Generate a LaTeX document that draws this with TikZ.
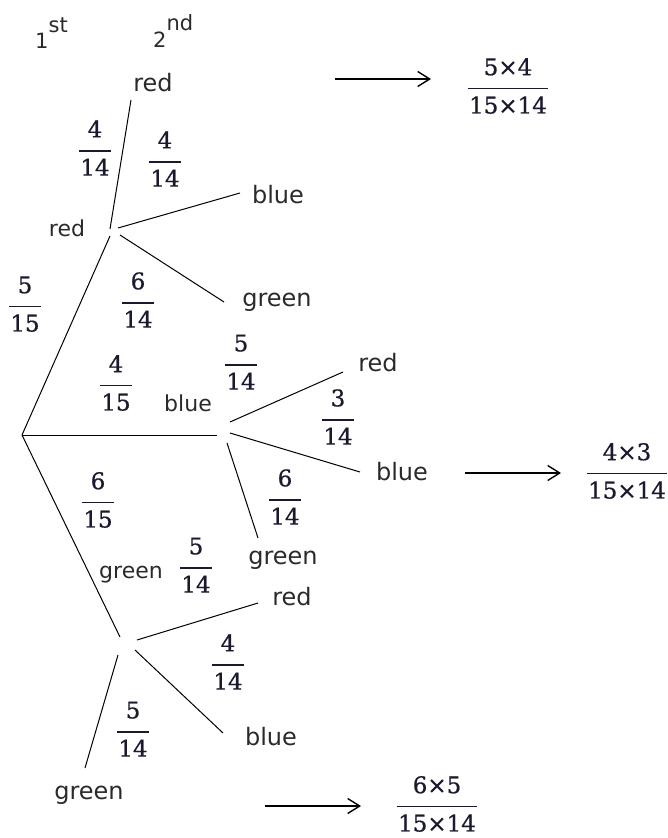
\documentclass[tikz,border=0pt]{standalone}
\usepackage{fontspec}
\setmainfont{DejaVu Sans}
\newfontfamily\fracfont[FakeBold=0.6]{DejaVu Serif}
\usetikzlibrary{arrows.meta}
\newcommand\fr[2]{{\fracfont\fontsize{23}{23}\selectfont\renewcommand\arraystretch{0}\setlength\arrayrulewidth{1.3pt}\begin{tabular}{@{\hspace{1.5pt}}c@{\hspace{1.5pt}}}\rule[-13pt]{0pt}{37pt}#1\\\hline\rule{0pt}{24pt}#2\end{tabular}}}
\definecolor{txt}{HTML}{2A2A2A}
\definecolor{num}{HTML}{1A1A2E}
\tikzset{
  lone/.style={font=\fontsize{22}{22}\selectfont, text=txt, inner sep=0pt},
  ltwo/.style={font=\fontsize{24}{24}\selectfont, text=txt, inner sep=0pt},
  ord/.style={font=\fontsize{21}{21}\selectfont, text=txt, inner sep=0pt, anchor=base west},
  frac/.style={inner sep=0pt, text=num, yshift=6.5pt},
  branch/.style={line width=1pt, black},
  arr/.style={line width=1.4pt, black, -{Straight Barb[length=12pt,width=15pt,line width=1.4pt]}}
}
\begin{document}
\begin{tikzpicture}[x=1pt,y=-1pt]
\useasboundingbox (0,0) rectangle (667,838);
% headers
\node[ord] (h1) at (35,48) {1\raisebox{16pt}{st}};
\node[ord] (h2) at (153,47) {2\raisebox{17pt}{nd}};
% labels
\node[ltwo] (rr) at (153,83) {red};
\node[ltwo] (rb) at (278,195) {blue};
\node[ltwo] (rg) at (277,302) {green};
\node[lone] (r) at (67,228) {red};
\node[lone] (b) at (188,403) {blue};
\node[ltwo] (br) at (378,363) {red};
\node[ltwo] (bb) at (402,472) {blue};
\node[ltwo] (bg) at (283,560) {green};
\node[lone] (g) at (131,575) {green};
\node[ltwo] (gr) at (292,597) {red};
\node[ltwo] (gb) at (271,737) {blue};
\node[ltwo] (gg) at (89,795) {green};
% fractions (position = centre of the fraction bar)
\node[frac] (f1) at (95,151) {\fr{4}{14}};
\node[frac] (f2) at (165,162) {\fr{4}{14}};
\node[frac] (f3) at (25,307) {\fr{5}{15}};
\node[frac] (f4) at (138,303) {\fr{6}{14}};
\node[frac] (f5) at (116,386) {\fr{4}{15}};
\node[frac] (f6) at (241,365) {\fr{5}{14}};
\node[frac] (f7) at (338,420) {\fr{3}{14}};
\node[frac] (f8) at (285,500) {\fr{6}{14}};
\node[frac] (f9) at (98,503) {\fr{6}{15}};
\node[frac] (f10) at (196,568) {\fr{5}{14}};
\node[frac] (f11) at (228,665) {\fr{4}{14}};
\node[frac] (f12) at (133,732) {\fr{5}{14}};
\node[frac] (p1) at (508,89) {\fr{5×4}{15×14}};
\node[frac] (p2) at (627,474) {\fr{4×3}{15×14}};
\node[frac] (p3) at (437,807) {\fr{6×5}{15×14}};
% branch end points
\coordinate (root) at (22,435);
\coordinate (rin) at (110,236);
\coordinate (bin) at (217,435);
\coordinate (gin) at (120,637);
\coordinate (rrs) at (110,229); \coordinate (rre) at (131,100);
\coordinate (rbs) at (118,228); \coordinate (rbe) at (240,193);
\coordinate (rgs) at (120,235); \coordinate (rge) at (224,302);
\coordinate (brs) at (230,422); \coordinate (bre) at (343,372);
\coordinate (bbs) at (230,433); \coordinate (bbe) at (360,472);
\coordinate (bgs) at (227,443); \coordinate (bge) at (258,538);
\coordinate (grs) at (137,640); \coordinate (gre) at (258,603);
\coordinate (gbs) at (135,650); \coordinate (gbe) at (223,733);
\coordinate (ggs) at (118,655); \coordinate (gge) at (85,768);
\draw[branch] (root) -- (rin);
\draw[branch] (root) -- (bin);
\draw[branch] (root) -- (gin);
\draw[branch] (rrs) -- (rre);
\draw[branch] (rbs) -- (rbe);
\draw[branch] (rgs) -- (rge);
\draw[branch] (brs) -- (bre);
\draw[branch] (bbs) -- (bbe);
\draw[branch] (bgs) -- (bge);
\draw[branch] (grs) -- (gre);
\draw[branch] (gbs) -- (gbe);
\draw[branch] (ggs) -- (gge);
% arrows
\coordinate (a1s) at (335,79); \coordinate (a1e) at (431,79);
\coordinate (a2s) at (465,473); \coordinate (a2e) at (561,473);
\coordinate (a3s) at (265,806); \coordinate (a3e) at (361,806);
\draw[arr] (a1s) -- (a1e);
\draw[arr] (a2s) -- (a2e);
\draw[arr] (a3s) -- (a3e);
\end{tikzpicture}
\end{document}
